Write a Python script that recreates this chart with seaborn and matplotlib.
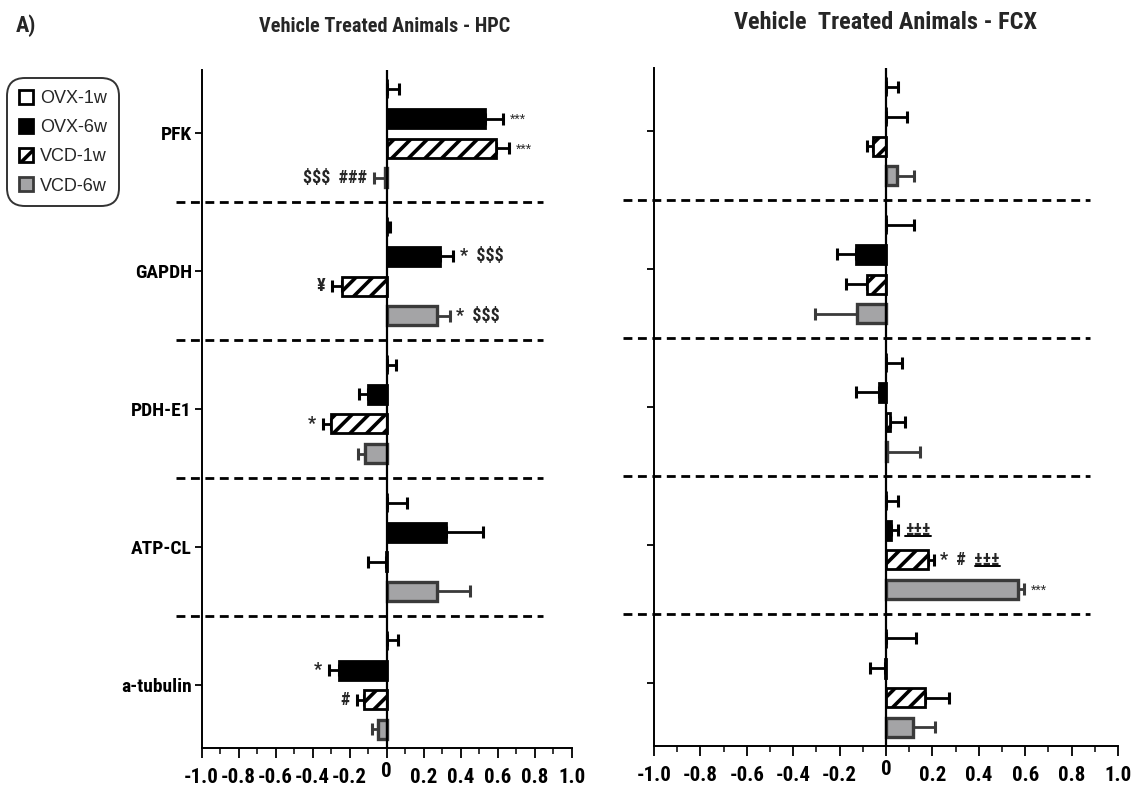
import numpy as np
import pandas as pd
import matplotlib
matplotlib.use("Agg")
import matplotlib.pyplot as plt
from matplotlib import font_manager
from matplotlib.patches import Patch
from matplotlib.lines import Line2D
from matplotlib.transforms import ScaledTranslation
import seaborn as sns

# ---------------- data ----------------
targets = ["PFK", "GAPDH", "PDH-E1", "ATP-CL", "a-tubulin"]
groups = ["OVX-1w", "OVX-6w", "VCD-1w", "VCD-6w"]

# Hippocampus (HPC): mean change per target for each group, and SEM
hpc_ovx1 = [0.0, 0.0, 0.0, 0.0, 0.0]
hpc_ovx6 = [0.53, 0.29, -0.10, 0.32, -0.26]
hpc_vcd1 = [0.59, -0.24, -0.30, -0.005, -0.125]
hpc_vcd6 = [-0.01, 0.27, -0.115, 0.27, -0.045]
hpc_ovx1_sem = [0.065, 0.02, 0.05, 0.11, 0.06]
hpc_ovx6_sem = [0.10, 0.07, 0.05, 0.20, 0.05]
hpc_vcd1_sem = [0.07, 0.055, 0.045, 0.095, 0.035]
hpc_vcd6_sem = [0.06, 0.07, 0.04, 0.18, 0.035]

# Frontal cortex (FCX)
fcx_ovx1 = [0.0, 0.0, 0.0, 0.0, 0.0]
fcx_ovx6 = [0.0, -0.13, -0.03, 0.02, -0.005]
fcx_vcd1 = [-0.055, -0.08, 0.018, 0.18, 0.167]
fcx_vcd6 = [0.047, -0.127, 0.005, 0.567, 0.115]
fcx_ovx1_sem = [0.05, 0.12, 0.07, 0.05, 0.13]
fcx_ovx6_sem = [0.09, 0.08, 0.10, 0.033, 0.065]
fcx_vcd1_sem = [0.025, 0.094, 0.063, 0.025, 0.106]
fcx_vcd6_sem = [0.075, 0.18, 0.14, 0.027, 0.096]

# significance marks
hpc_note_target = ["PFK", "PFK", "PFK", "GAPDH", "GAPDH", "GAPDH", "PDH-E1", "a-tubulin", "a-tubulin"]
hpc_note_group = ["OVX-6w", "VCD-1w", "VCD-6w", "OVX-6w", "VCD-1w", "VCD-6w", "VCD-1w", "OVX-6w", "VCD-1w"]
hpc_note_text = ["***", "***", "$$$  ###", "*  $$$", "¥", "*  $$$", "*", "*", "#"]

fcx_note_target = ["ATP-CL", "ATP-CL", "ATP-CL"]
fcx_note_group = ["OVX-6w", "VCD-1w", "VCD-6w"]
fcx_note_text = ["±±±", "*  #  ±±±", "***"]

x_ticks = [-1.0, -0.8, -0.6, -0.4, -0.2, 0.0, 0.2, 0.4, 0.6, 0.8, 1.0]
x_tick_labels = ["-1.0", "-0.8", "-0.6", "-0.4", "-0.2", "0", "0.2", "0.4", "0.6", "0.8", "1.0"]

titles = ["Vehicle Treated Animals - HPC", "Vehicle  Treated Animals - FCX"]

# ---------------- style ----------------
sns.set_style("ticks")
avail = {f.name for f in font_manager.fontManager.ttflist}
narrow = next((f for f in ["Liberation Sans Narrow", "Roboto Condensed", "Liberation Sans"] if f in avail),
              "DejaVu Sans")
regular = "Liberation Sans" if "Liberation Sans" in avail else "DejaVu Sans"
plt.rcParams["font.family"] = [narrow, "DejaVu Sans"]
plt.rcParams["hatch.linewidth"] = 2.6
plt.rcParams["hatch.color"] = "black"

face = {"OVX-1w": "white", "OVX-6w": "black", "VCD-1w": "white", "VCD-6w": "#a4a4a6"}
edge = {"OVX-1w": "black", "OVX-6w": "black", "VCD-1w": "black", "VCD-6w": "#3a3a3a"}
hatch = {"OVX-1w": "", "OVX-6w": "", "VCD-1w": "//", "VCD-6w": ""}


def frame(values, sems):
    rows = []
    for g, vals, errs in zip(groups, values, sems):
        for t, v, e in zip(targets, vals, errs):
            rows.append({"target": t, "group": g, "value": v, "sem": e})
    return pd.DataFrame(rows)


hpc = frame([hpc_ovx1, hpc_ovx6, hpc_vcd1, hpc_vcd6],
            [hpc_ovx1_sem, hpc_ovx6_sem, hpc_vcd1_sem, hpc_vcd6_sem])
fcx = frame([fcx_ovx1, fcx_ovx6, fcx_vcd1, fcx_vcd6],
            [fcx_ovx1_sem, fcx_ovx6_sem, fcx_vcd1_sem, fcx_vcd6_sem])

fig = plt.figure(figsize=(11.38, 7.91), dpi=100)
ax_l = fig.add_axes([0.1772, 0.0540, 0.3251, 0.8575])
ax_r = fig.add_axes([0.5747, 0.0565, 0.4077, 0.8575])

ylim = (4.46, -0.46)
panel_specs = [
    (ax_l, hpc, hpc_note_target, hpc_note_group, hpc_note_text, (-1.14, 0.845), True),
    (ax_r, fcx, fcx_note_target, fcx_note_group, fcx_note_text, (-1.135, 0.878), False),
]

underlines = []

for ax, df, n_t, n_g, n_txt, dash_span, show_labels in panel_specs:
    sns.barplot(data=df, y="target", x="value", hue="group", order=targets, hue_order=groups,
                orient="h", palette=face, saturation=1, width=0.86, gap=0.36,
                errorbar=None, legend=False, ax=ax, zorder=3)

    centers = {}
    for k, g in enumerate(groups):
        cont = ax.containers[k]
        sub = df[df["group"] == g].set_index("target").loc[targets]
        for patch, t in zip(cont.patches, targets):
            patch.set_facecolor(face[g])
            patch.set_edgecolor(edge[g])
            patch.set_linewidth(2.0 if g != "VCD-6w" else 2.4)
            patch.set_hatch(hatch[g])
            yc = patch.get_y() + patch.get_height() / 2
            v = sub.loc[t, "value"]
            e = sub.loc[t, "sem"]
            sgn = 1 if v >= 0 else -1
            xerr = [[0], [e]] if sgn > 0 else [[e], [0]]
            ax.errorbar(v, yc, xerr=xerr, fmt="none", ecolor=edge[g],
                        elinewidth=2.0, capsize=4.0, capthick=2.2, zorder=2)
            centers[(t, g)] = (v + sgn * e, yc, sgn)

    # zero line
    ax.axvline(0, color="black", lw=1.6, zorder=4)

    # dashed separators between targets
    for i in range(len(targets) - 1):
        ax.plot(dash_span, [i + 0.5, i + 0.5], color="black", lw=2.0,
                linestyle=(0, (3.2, 2.0)), clip_on=False, zorder=5)

    # significance marks
    for t, g, s in zip(n_t, n_g, n_txt):
        xe, yc, sgn = centers[(t, g)]
        small = set(s) <= {"*"} and len(s) == 3
        txt = ax.annotate(s, xy=(xe, yc), xytext=(5 * sgn, -1 if small else 0),
                          textcoords="offset points",
                          ha="left" if sgn > 0 else "right", va="center",
                          fontsize=10 if small else 13,
                          fontweight="normal" if small else "bold",
                          family=[regular] if small else [narrow, "DejaVu Sans"],
                          zorder=6)
        if "±" in s:
            underlines.append(txt)

    ax.set_xlim(-1.0, 1.0)
    ax.set_ylim(*ylim)
    ax.set_xticks(x_ticks)
    ax.set_xticklabels(x_tick_labels)
    ax.set_xticks(np.arange(-0.9, 1.0, 0.2), minor=True)
    ax.set_xlabel("")
    ax.set_ylabel("")
    if not show_labels:
        ax.set_yticklabels([])
    for sp in ["top", "right"]:
        ax.spines[sp].set_visible(False)
    for sp in ["left", "bottom"]:
        ax.spines[sp].set_linewidth(1.4)
        ax.spines[sp].set_color("black")
    ax.tick_params(axis="x", which="major", length=7, width=1.3, pad=7,
                   labelsize=15, colors="black")
    ax.tick_params(axis="x", which="minor", length=4, width=1.3)
    ax.tick_params(axis="y", length=5, width=1.3, pad=2, labelsize=14, colors="black")
    for lab in ax.get_xticklabels() + ax.get_yticklabels():
        lab.set_fontweight("bold")
    # the zero label sits a little higher than the others
    zero_lab = ax.get_xticklabels()[x_tick_labels.index("0")]
    zero_lab.set_transform(zero_lab.get_transform() + ScaledTranslation(0, 4 / 72, fig.dpi_scale_trans))
    ax.set_facecolor("white")

# titles and panel letter
fig.text(0.338, 0.967, titles[0], ha="center", va="center", fontsize=14.6, fontweight="bold")
fig.text(0.778, 0.971, titles[1], ha="center", va="center", fontsize=17.5, fontweight="bold")
fig.text(0.014, 0.968, "A)", ha="left", va="center", fontsize=16, fontweight="bold")

# legend
handles = [Patch(facecolor=face[g], edgecolor=edge[g], hatch=hatch[g], linewidth=2.0) for g in groups]
leg = fig.legend(handles, groups, loc="upper left", bbox_to_anchor=(0.006, 0.901),
                 bbox_transform=fig.transFigure, frameon=True, fancybox=True,
                 prop={"family": regular, "size": 13}, handlelength=0.8, handleheight=0.8,
                 handletextpad=0.4, labelspacing=0.66, borderpad=0.65, borderaxespad=0)
fr = leg.get_frame()
fr.set_edgecolor("black")
fr.set_linewidth(1.4)
fr.set_boxstyle("round,pad=0.0,rounding_size=1.0")

# underline the "±±±" marks
fig.canvas.draw()
renderer = fig.canvas.get_renderer()
for txt in underlines:
    bb = txt.get_window_extent(renderer)
    probe = fig.text(0, 0, "±±±", fontsize=txt.get_fontsize(), fontweight="bold")
    w = probe.get_window_extent(renderer).width
    probe.remove()
    yline = bb.y0 + 3
    fig.add_artist(Line2D([bb.x1 - w, bb.x1], [yline, yline], transform=None,
                          color="black", lw=1.4))

fig.savefig("out.png", dpi=100, facecolor="white")
